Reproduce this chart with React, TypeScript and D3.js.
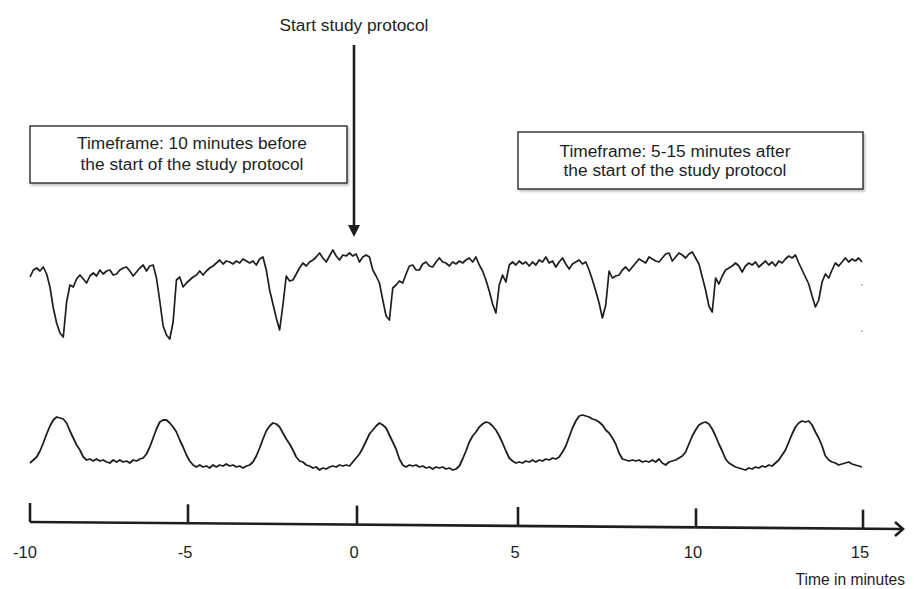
import React from "react";
import * as d3 from "d3";

// Time axis (minutes)
const tickValues = [-10, -5, 0, 5, 10, 15];
const tickLabels = ["-10", "-5", "0", "5", "10", "15"];
const axisTitle = "Time in minutes";
const eventLabel = "Start study protocol";
const eventTime = 0;
const boxBefore = ["Timeframe: 10 minutes before", "the start of the study protocol"];
const boxAfter = ["Timeframe: 5-15 minutes after", "the start of the study protocol"];

// Recorded traces, sampled every 0.1 min from -10 to 15 (arbitrary units 0-100)
const sampleStart = -10;
const sampleStep = 0.1;
const topTrace = [
  73, 80, 82, 79, 83, 76, 63, 42, 27, 17,
  13, 48, 65, 63, 71, 75, 71, 67, 74, 77,
  74, 80, 76, 79, 80, 75, 76, 80, 82, 83,
  79, 74, 78, 82, 85, 79, 84, 85, 72, 49,
  24, 15, 11, 28, 70, 73, 63, 67, 70, 73,
  75, 79, 75, 79, 82, 84, 87, 90, 86, 89,
  88, 86, 89, 87, 91, 89, 87, 89, 85, 91,
  93, 80, 60, 46, 32, 20, 45, 74, 69, 70,
  76, 82, 87, 84, 88, 90, 93, 97, 92, 88,
  94, 100, 94, 90, 95, 94, 97, 94, 96, 88,
  93, 95, 93, 80, 74, 67, 50, 34, 30, 62,
  65, 69, 67, 76, 84, 85, 80, 80, 86, 88,
  84, 83, 88, 92, 88, 87, 84, 88, 86, 89,
  87, 90, 92, 88, 93, 85, 79, 70, 59, 46,
  37, 65, 75, 68, 85, 88, 85, 89, 86, 88,
  84, 88, 85, 90, 88, 93, 87, 89, 83, 88,
  92, 86, 81, 86, 88, 90, 86, 88, 80, 70,
  59, 47, 32, 45, 79, 72, 74, 75, 80, 83,
  79, 83, 87, 91, 89, 87, 93, 91, 89, 88,
  92, 96, 97, 89, 93, 97, 95, 92, 96, 98,
  92, 86, 73, 60, 44, 38, 72, 66, 74, 80,
  82, 84, 87, 84, 78, 84, 87, 85, 88, 83,
  86, 89, 85, 88, 84, 89, 87, 91, 94, 92,
  95, 87, 80, 73, 66, 54, 43, 50, 68, 76,
  72, 80, 87, 84, 88, 92, 88, 91, 89, 92,
  88,
];
const bottomTrace = [
  12, 15, 18, 24, 32, 41, 49, 55, 58, 57,
  56, 52, 44, 37, 30, 25, 18, 15, 16, 14,
  16, 14, 15, 13, 12, 15, 13, 15, 13, 14,
  12, 15, 14, 16, 17, 21, 28, 37, 46, 53,
  55, 55, 52, 48, 43, 35, 28, 20, 14, 10,
  8, 10, 8, 9, 7, 10, 8, 10, 9, 11,
  9, 10, 8, 9, 7, 9, 10, 13, 19, 27,
  36, 44, 49, 52, 51, 48, 42, 36, 31, 25,
  18, 14, 13, 10, 9, 7, 8, 5, 7, 6,
  8, 9, 8, 10, 9, 10, 9, 13, 17, 21,
  27, 34, 41, 45, 49, 52, 50, 47, 40, 33,
  26, 16, 10, 8, 10, 9, 10, 8, 9, 7,
  8, 6, 8, 7, 8, 6, 7, 5, 6, 9,
  16, 24, 33, 39, 43, 48, 51, 53, 52, 49,
  45, 39, 32, 24, 17, 14, 12, 13, 12, 14,
  13, 15, 13, 15, 14, 16, 15, 17, 16, 18,
  23, 29, 38, 47, 54, 59, 60, 59, 58, 56,
  55, 53, 50, 45, 42, 37, 31, 22, 16, 15,
  14, 15, 14, 15, 13, 14, 13, 15, 13, 16,
  12, 10, 13, 14, 15, 17, 19, 23, 31, 39,
  45, 50, 52, 53, 51, 46, 39, 31, 24, 16,
  12, 10, 8, 7, 6, 5, 7, 6, 8, 7,
  9, 8, 10, 9, 12, 15, 20, 25, 33, 41,
  48, 52, 54, 53, 54, 50, 43, 37, 29, 19,
  15, 13, 12, 10, 11, 12, 13, 11, 10, 9,
  8,
];

const W = 919;
const H = 589;
const FONT = "'Liberation Sans', Arial, sans-serif";
const INK = "#1e1e1e";

export default function App() {
  // piecewise axis scale (tick marks in the figure are not evenly spaced)
  const xAxis = d3.scaleLinear().domain(tickValues).range([30, 188, 357, 518, 696, 863]);
  const xTrace = d3.scaleLinear().domain([-10, 15]).range([30, 862]);
  const yTop = d3.scaleLinear().domain([0, 100]).range([350, 250]);
  const yBot = d3.scaleLinear().domain([0, 100]).range([475, 375]);

  const lineTop = d3
    .line<number>()
    .x((_, i) => xTrace(sampleStart + i * sampleStep))
    .y((d) => yTop(d))
    .curve(d3.curveLinear);
  const lineBot = d3
    .line<number>()
    .x((_, i) => xTrace(sampleStart + i * sampleStep))
    .y((d) => yBot(d))
    .curve(d3.curveLinear);

  // axis line has a slight slope in the figure
  const axisX0 = 30;
  const axisX1 = 903;
  const axisY0 = 522;
  const axisY1 = 529;
  const axisY = d3.scaleLinear().domain([axisX0, axisX1]).range([axisY0, axisY1]);

  const arrowX = xAxis(eventTime) - 3;

  return (
    <svg width={W} height={H} style={{ position: "absolute", left: 0, top: 0, background: "#fff" }}>
      <defs>
        <filter id="sh" x="-5%" y="-5%" width="115%" height="130%">
          <feDropShadow dx="1.5" dy="2" stdDeviation="1.2" floodColor="#000" floodOpacity="0.25" />
        </filter>
      </defs>

      {/* title + event arrow */}
      <text x={arrowX} y={31} textAnchor="middle" fontFamily={FONT} fontSize={17.3} fill={INK}>
        {eventLabel}
      </text>
      <line x1={arrowX} x2={arrowX} y1={45} y2={228} stroke={INK} strokeWidth={2.6} />
      <path d={`M${arrowX - 6},${225} L${arrowX + 6},${225} L${arrowX},${237} Z`} fill={INK} />

      {/* annotation boxes */}
      <rect x={30} y={126} width={317} height={57} fill="#fff" stroke={INK} strokeWidth={1.3} filter="url(#sh)" />
      {boxBefore.map((t, i) => (
        <text key={t} x={192} y={149 + i * 21} textAnchor="middle" fontFamily={FONT} fontSize={17.3} fill={INK}>
          {t}
        </text>
      ))}
      <rect x={518} y={132} width={345} height={57} fill="#fff" stroke={INK} strokeWidth={1.3} filter="url(#sh)" />
      {boxAfter.map((t, i) => (
        <text key={t} x={675} y={157 + i * 19} textAnchor="middle" fontFamily={FONT} fontSize={17.3} fill={INK}>
          {t}
        </text>
      ))}

      {/* traces */}
      <path d={lineTop(topTrace) || ""} fill="none" stroke={INK} strokeWidth={1.7} strokeLinejoin="round" />
      <path d={lineBot(bottomTrace) || ""} fill="none" stroke={INK} strokeWidth={1.8} strokeLinejoin="round" />
      <circle cx={862} cy={285} r={0.8} fill="#777" />
      <circle cx={862} cy={331} r={0.8} fill="#777" />

      {/* time axis */}
      <line x1={axisX0} y1={axisY0} x2={axisX1 - 1} y2={axisY1} stroke={INK} strokeWidth={2.6} />
      <path
        d={`M${axisX1 - 8},${axisY1 - 7} L${axisX1},${axisY1} L${axisX1 - 8},${axisY1 + 7}`}
        fill="none"
        stroke={INK}
        strokeWidth={2.6}
      />
      {tickValues.map((v, i) => {
        const x = xAxis(v);
        const y = axisY(x);
        return (
          <g key={v}>
            <line x1={x} x2={x} y1={y - 19} y2={y} stroke={INK} strokeWidth={2.6} />
            <text x={x - 3 + (i === 0 ? -2 : 0)} y={558} textAnchor="middle" fontFamily={FONT} fontSize={16.5} fill={INK}>
              {tickLabels[i]}
            </text>
          </g>
        );
      })}
      <text x={905} y={585} textAnchor="end" fontFamily={FONT} fontSize={15.6} fill={INK}>
        {axisTitle}
      </text>
    </svg>
  );
}
